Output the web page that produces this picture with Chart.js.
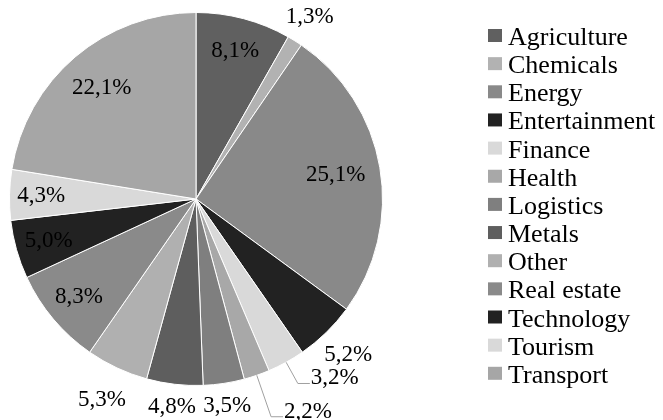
<!DOCTYPE html>
<html>
<head>
    <title>Sectors</title>
    <script src="https://cdn.jsdelivr.net/npm/chart.js"></script>
    <style>body { margin: 0; background: #fff; }</style>
</head>
<body>
    <div style="width:663px; height:420px;">
    <canvas id="myChart" width="663" height="420"></canvas>
    </div>
<script>
const sectors = ['Agriculture', 'Chemicals', 'Energy', 'Entertainment', 'Finance', 'Health', 'Logistics',
                 'Metals', 'Other', 'Real estate', 'Technology', 'Tourism', 'Transport'];
const shares = [8.1, 1.3, 25.1, 5.2, 3.2, 2.2, 3.5, 4.8, 5.3, 8.3, 5.0, 4.3, 22.1];

// greys, in the same order as the sectors
const greys = ['#606060', '#b2b2b2', '#898989', '#222222', '#d9d9d9', '#a8a8a8', '#7f7f7f',
               '#5e5e5e', '#b0b0b0', '#8a8a8a', '#222222', '#d9d9d9', '#a6a6a6'];
// label placement: inside the slice, outside it, or outside with a leader line
const labelMode = ['in', 'out', 'in', 'out', 'leader', 'leader', 'out', 'out', 'out', 'in', 'in', 'in', 'in'];
const labelDist = [0.82, 1.15, 0.76, 1.17, 1.13, 1.235, 1.12, 1.12, 1.19, 0.82, 0.82, 0.83, 0.78];

const serif = '"Liberation Serif", "Times New Roman", serif';

const pieLabels = {
    id: 'pieLabels',
    afterDatasetsDraw(chart) {
        const ctx = chart.ctx;
        const arcs = chart.getDatasetMeta(0).data;
        ctx.save();
        ctx.font = '23px ' + serif;
        arcs.forEach((arc, i) => {
            const {x, y, startAngle, endAngle, outerRadius} =
                arc.getProps(['x', 'y', 'startAngle', 'endAngle', 'outerRadius'], true);
            const mid = (startAngle + endAngle) / 2;
            const cos = Math.cos(mid), sin = Math.sin(mid);
            const r = outerRadius * labelDist[i];
            const text = shares[i].toFixed(1).replace('.', ',') + '%';
            ctx.fillStyle = '#000';
            if (labelMode[i] === 'leader') {
                const x1 = x + cos * r, y1 = y + sin * r;
                ctx.strokeStyle = '#a0a0a0';
                ctx.lineWidth = 1;
                ctx.beginPath();
                ctx.moveTo(x + cos * outerRadius, y + sin * outerRadius);
                ctx.lineTo(x1, y1);
                ctx.lineTo(x1 + 12, y1);
                ctx.stroke();
                ctx.textAlign = 'left';
                ctx.textBaseline = 'alphabetic';
                ctx.fillText(text, x1 + 13, y1 + 1);
            } else {
                ctx.textAlign = 'center';
                ctx.textBaseline = 'middle';
                ctx.fillText(text, x + cos * r, y + sin * r);
            }
        });

        // legend on the right
        ctx.font = '26px ' + serif;
        ctx.textAlign = 'left';
        ctx.textBaseline = 'alphabetic';
        sectors.forEach((name, i) => {
            const top = 29 + i * 28.15;
            ctx.fillStyle = greys[i];
            ctx.fillRect(488, top, 14, 13);
            ctx.fillStyle = '#000';
            ctx.fillText(name, 508, top + 16);
        });
        ctx.restore();
    }
};

const ctx = document.getElementById('myChart').getContext('2d');
new Chart(ctx, {
    type: 'pie',
    data: {
        labels: sectors,
        datasets: [{
            data: shares,
            backgroundColor: greys,
            borderColor: '#ffffff',
            borderWidth: 1
        }]
    },
    options: {
        responsive: false,
        animation: false,
        layout: { padding: { left: 9, top: 12, right: 280, bottom: 34 } },
        plugins: {
            legend: { display: false },
            tooltip: { enabled: false }
        }
    },
    plugins: [pieLabels]
});
</script>
</body>
</html>
